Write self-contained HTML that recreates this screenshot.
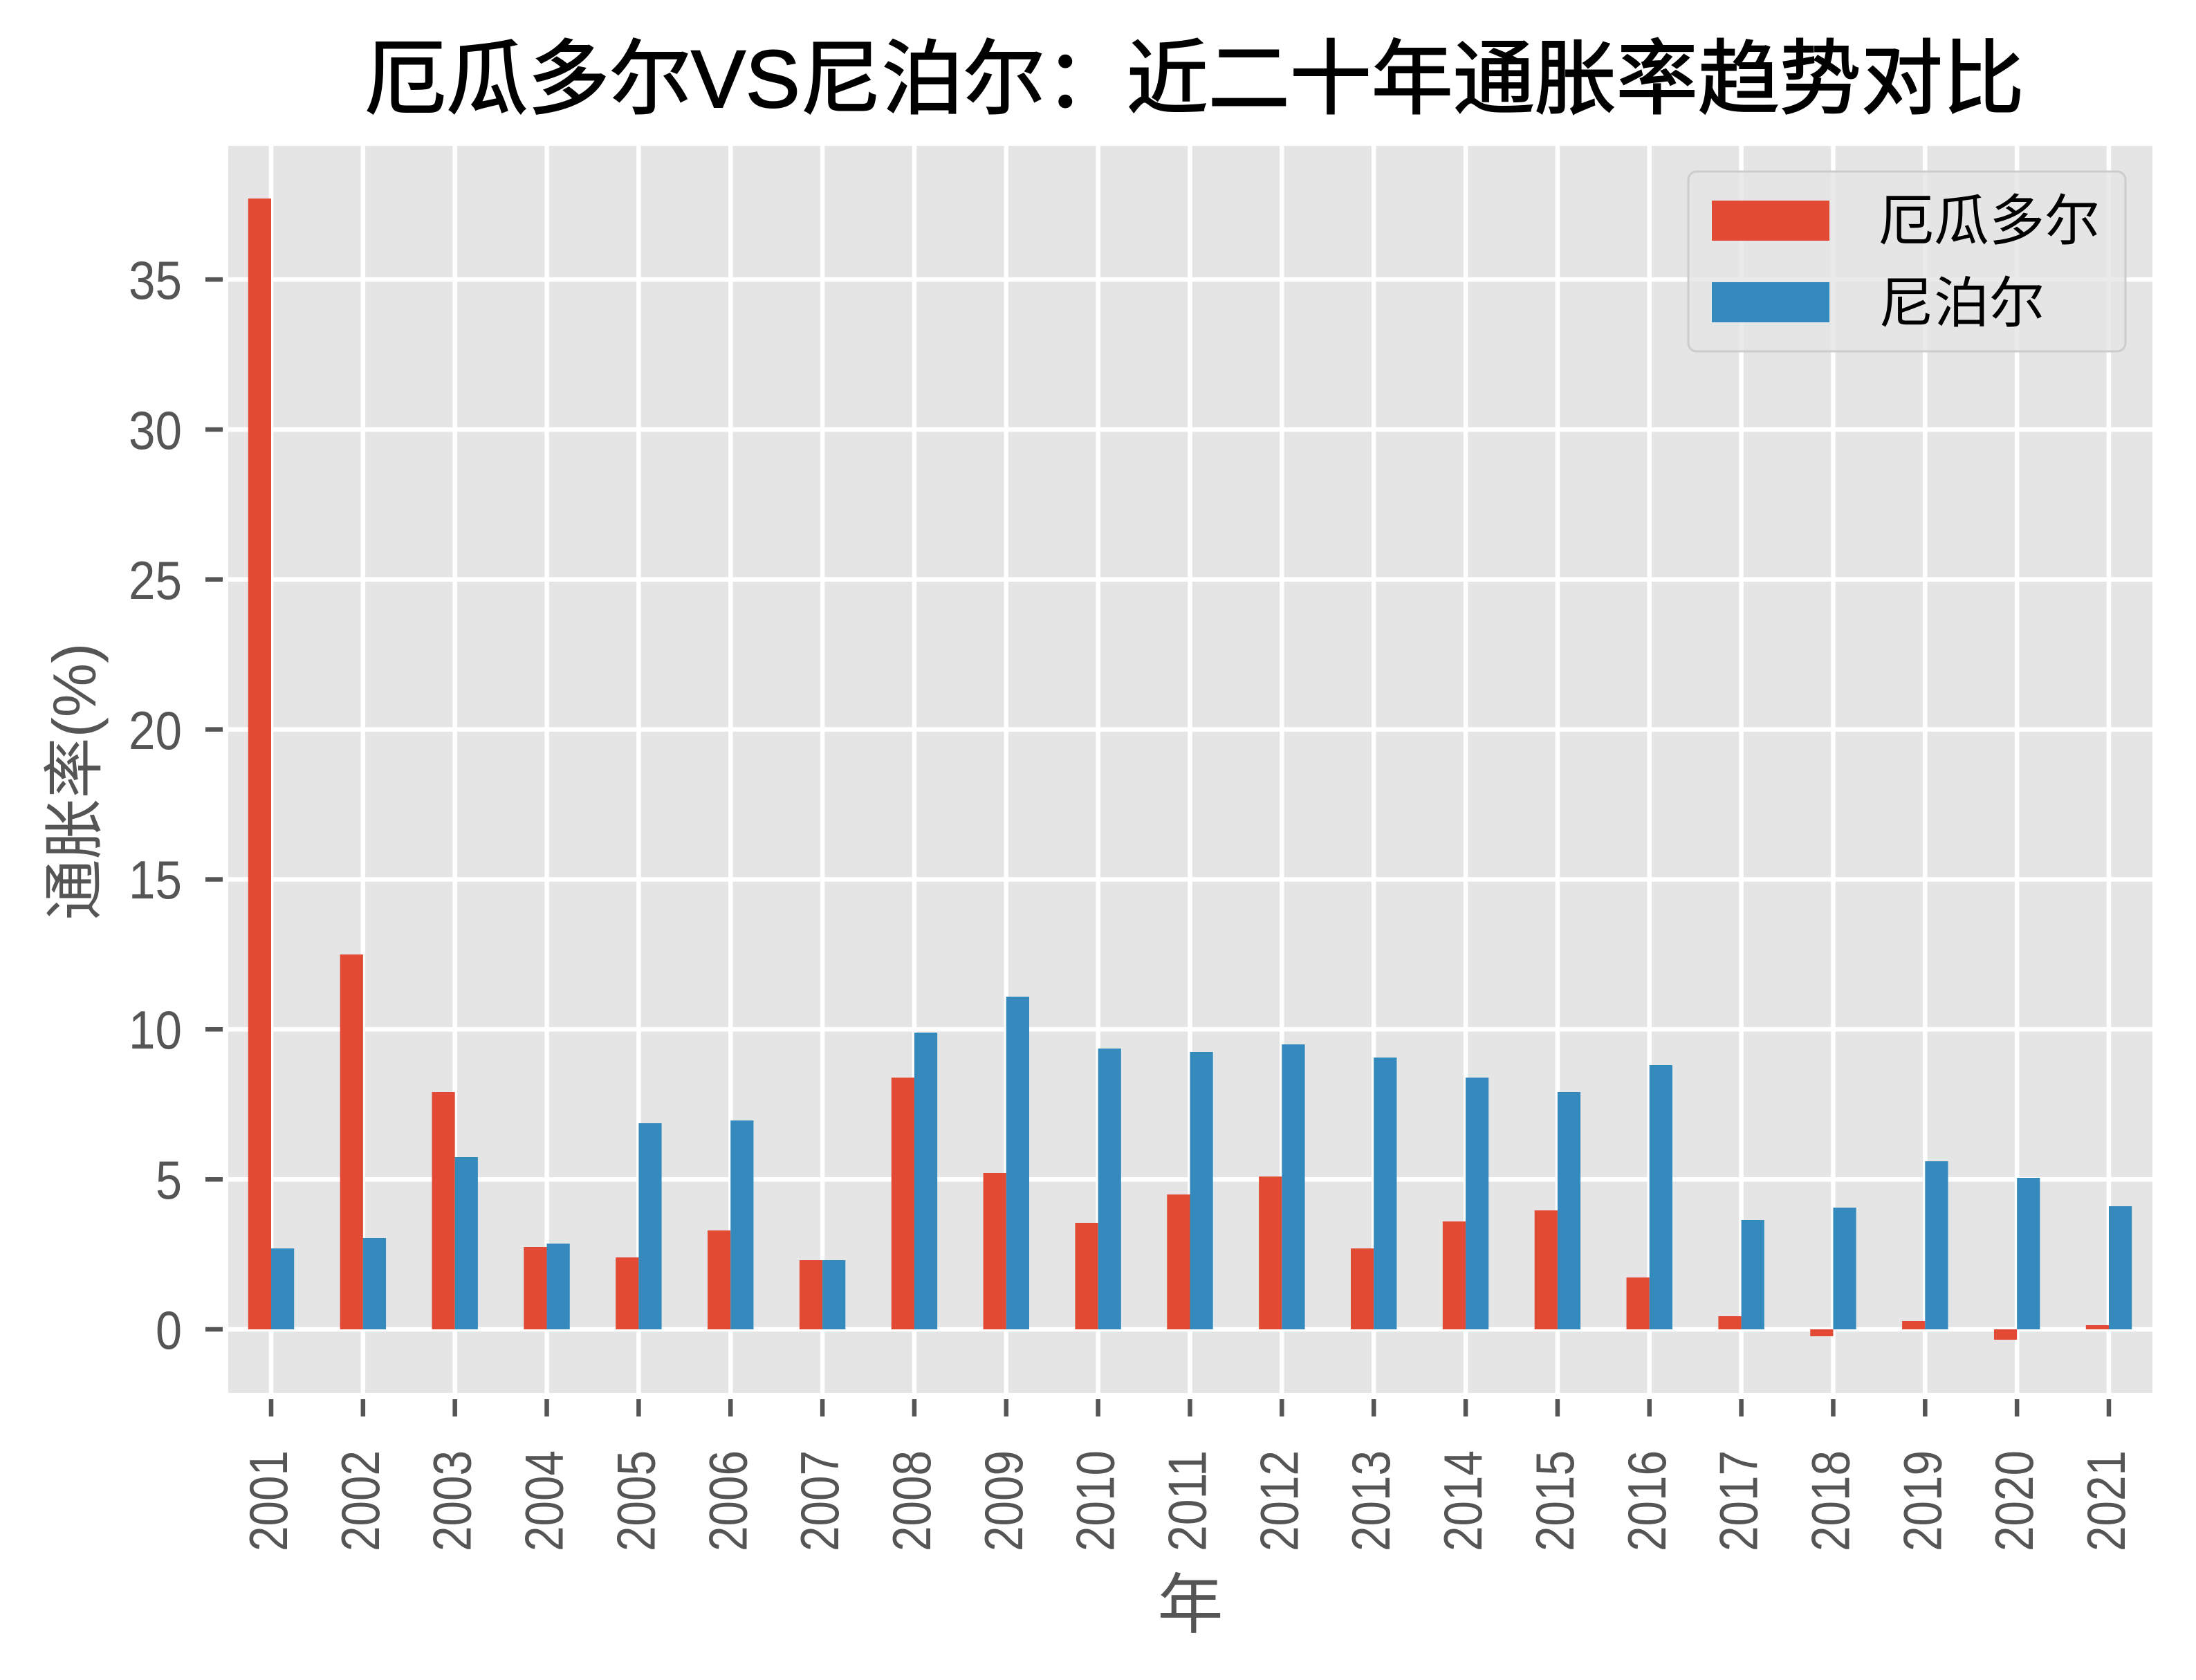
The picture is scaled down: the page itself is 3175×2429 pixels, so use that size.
<!DOCTYPE html>
<html><head><meta charset="utf-8"><style>
html,body{margin:0;padding:0;background:#fff;}
svg{display:block;}
text{font-family:"Liberation Sans","Noto Sans CJK SC",sans-serif;}
</style></head><body>
<svg width="3175" height="2429" viewBox="0 0 3175 2429" xmlns="http://www.w3.org/2000/svg">
<rect x="0" y="0" width="3175" height="2429" fill="#fff"/>
<text x="1727" y="155" font-size="118" text-anchor="middle" fill="#000" stroke="#000" stroke-width="2">厄瓜多尔VS尼泊尔：近二十年通胀率趋势对比</text>
<rect x="330" y="211" width="2782" height="1803" fill="#e5e5e5"/>
<g stroke="#fff" stroke-width="6.5">
<line x1="330" x2="3112" y1="1922" y2="1922"/>
<line x1="330" x2="3112" y1="1705.2" y2="1705.2"/>
<line x1="330" x2="3112" y1="1488.3" y2="1488.3"/>
<line x1="330" x2="3112" y1="1271.5" y2="1271.5"/>
<line x1="330" x2="3112" y1="1054.6" y2="1054.6"/>
<line x1="330" x2="3112" y1="837.8" y2="837.8"/>
<line x1="330" x2="3112" y1="621" y2="621"/>
<line x1="330" x2="3112" y1="404.1" y2="404.1"/>
<line y1="211" y2="2014" x1="392" x2="392"/>
<line y1="211" y2="2014" x1="524.85" x2="524.85"/>
<line y1="211" y2="2014" x1="657.7" x2="657.7"/>
<line y1="211" y2="2014" x1="790.55" x2="790.55"/>
<line y1="211" y2="2014" x1="923.4" x2="923.4"/>
<line y1="211" y2="2014" x1="1056.25" x2="1056.25"/>
<line y1="211" y2="2014" x1="1189.1" x2="1189.1"/>
<line y1="211" y2="2014" x1="1321.95" x2="1321.95"/>
<line y1="211" y2="2014" x1="1454.8" x2="1454.8"/>
<line y1="211" y2="2014" x1="1587.65" x2="1587.65"/>
<line y1="211" y2="2014" x1="1720.5" x2="1720.5"/>
<line y1="211" y2="2014" x1="1853.35" x2="1853.35"/>
<line y1="211" y2="2014" x1="1986.2" x2="1986.2"/>
<line y1="211" y2="2014" x1="2119.05" x2="2119.05"/>
<line y1="211" y2="2014" x1="2251.9" x2="2251.9"/>
<line y1="211" y2="2014" x1="2384.75" x2="2384.75"/>
<line y1="211" y2="2014" x1="2517.6" x2="2517.6"/>
<line y1="211" y2="2014" x1="2650.45" x2="2650.45"/>
<line y1="211" y2="2014" x1="2783.3" x2="2783.3"/>
<line y1="211" y2="2014" x1="2916.15" x2="2916.15"/>
<line y1="211" y2="2014" x1="3049" x2="3049"/>
</g>
<g fill="#e24a33">
<rect x="358.8" y="287" width="33.2" height="1635"/>
<rect x="491.65" y="1380" width="33.2" height="542"/>
<rect x="624.5" y="1579" width="33.2" height="343"/>
<rect x="757.35" y="1803" width="33.2" height="119"/>
<rect x="890.2" y="1818" width="33.2" height="104"/>
<rect x="1023.05" y="1779" width="33.2" height="143"/>
<rect x="1155.9" y="1822" width="33.2" height="100"/>
<rect x="1288.75" y="1558" width="33.2" height="364"/>
<rect x="1421.6" y="1696" width="33.2" height="226"/>
<rect x="1554.45" y="1768" width="33.2" height="154"/>
<rect x="1687.3" y="1727" width="33.2" height="195"/>
<rect x="1820.15" y="1701" width="33.2" height="221"/>
<rect x="1953" y="1805" width="33.2" height="117"/>
<rect x="2085.85" y="1766" width="33.2" height="156"/>
<rect x="2218.7" y="1750" width="33.2" height="172"/>
<rect x="2351.55" y="1847" width="33.2" height="75"/>
<rect x="2484.4" y="1903" width="33.2" height="19"/>
<rect x="2617.25" y="1922" width="33.2" height="10"/>
<rect x="2750.1" y="1910" width="33.2" height="12"/>
<rect x="2882.95" y="1922" width="33.2" height="15"/>
<rect x="3015.8" y="1916" width="33.2" height="6"/>
</g>
<g fill="#348abd">
<rect x="392" y="1805" width="33.2" height="117"/>
<rect x="524.85" y="1790" width="33.2" height="132"/>
<rect x="657.7" y="1673" width="33.2" height="249"/>
<rect x="790.55" y="1798" width="33.2" height="124"/>
<rect x="923.4" y="1624" width="33.2" height="298"/>
<rect x="1056.25" y="1620" width="33.2" height="302"/>
<rect x="1189.1" y="1822" width="33.2" height="100"/>
<rect x="1321.95" y="1493" width="33.2" height="429"/>
<rect x="1454.8" y="1441" width="33.2" height="481"/>
<rect x="1587.65" y="1516" width="33.2" height="406"/>
<rect x="1720.5" y="1521" width="33.2" height="401"/>
<rect x="1853.35" y="1510" width="33.2" height="412"/>
<rect x="1986.2" y="1529" width="33.2" height="393"/>
<rect x="2119.05" y="1558" width="33.2" height="364"/>
<rect x="2251.9" y="1579" width="33.2" height="343"/>
<rect x="2384.75" y="1540" width="33.2" height="382"/>
<rect x="2517.6" y="1764" width="33.2" height="158"/>
<rect x="2650.45" y="1746" width="33.2" height="176"/>
<rect x="2783.3" y="1679" width="33.2" height="243"/>
<rect x="2916.15" y="1703" width="33.2" height="219"/>
<rect x="3049" y="1744" width="33.2" height="178"/>
</g>
<g stroke="#555" stroke-width="6.5">
<line x1="297" x2="322" y1="1922" y2="1922"/>
<line x1="297" x2="322" y1="1705.2" y2="1705.2"/>
<line x1="297" x2="322" y1="1488.3" y2="1488.3"/>
<line x1="297" x2="322" y1="1271.5" y2="1271.5"/>
<line x1="297" x2="322" y1="1054.6" y2="1054.6"/>
<line x1="297" x2="322" y1="837.8" y2="837.8"/>
<line x1="297" x2="322" y1="621" y2="621"/>
<line x1="297" x2="322" y1="404.1" y2="404.1"/>
</g>
<g fill="#555" font-size="78" text-anchor="end">
<text x="263" y="1950" textLength="38" lengthAdjust="spacingAndGlyphs">0</text>
<text x="263" y="1733" textLength="38" lengthAdjust="spacingAndGlyphs">5</text>
<text x="263" y="1516" textLength="77" lengthAdjust="spacingAndGlyphs">10</text>
<text x="263" y="1299" textLength="77" lengthAdjust="spacingAndGlyphs">15</text>
<text x="263" y="1083" textLength="77" lengthAdjust="spacingAndGlyphs">20</text>
<text x="263" y="866" textLength="77" lengthAdjust="spacingAndGlyphs">25</text>
<text x="263" y="649" textLength="77" lengthAdjust="spacingAndGlyphs">30</text>
<text x="263" y="432" textLength="77" lengthAdjust="spacingAndGlyphs">35</text>
</g>
<g stroke="#555" stroke-width="6.5">
<line y1="2023" y2="2048" x1="392" x2="392"/>
<line y1="2023" y2="2048" x1="524.85" x2="524.85"/>
<line y1="2023" y2="2048" x1="657.7" x2="657.7"/>
<line y1="2023" y2="2048" x1="790.55" x2="790.55"/>
<line y1="2023" y2="2048" x1="923.4" x2="923.4"/>
<line y1="2023" y2="2048" x1="1056.25" x2="1056.25"/>
<line y1="2023" y2="2048" x1="1189.1" x2="1189.1"/>
<line y1="2023" y2="2048" x1="1321.95" x2="1321.95"/>
<line y1="2023" y2="2048" x1="1454.8" x2="1454.8"/>
<line y1="2023" y2="2048" x1="1587.65" x2="1587.65"/>
<line y1="2023" y2="2048" x1="1720.5" x2="1720.5"/>
<line y1="2023" y2="2048" x1="1853.35" x2="1853.35"/>
<line y1="2023" y2="2048" x1="1986.2" x2="1986.2"/>
<line y1="2023" y2="2048" x1="2119.05" x2="2119.05"/>
<line y1="2023" y2="2048" x1="2251.9" x2="2251.9"/>
<line y1="2023" y2="2048" x1="2384.75" x2="2384.75"/>
<line y1="2023" y2="2048" x1="2517.6" x2="2517.6"/>
<line y1="2023" y2="2048" x1="2650.45" x2="2650.45"/>
<line y1="2023" y2="2048" x1="2783.3" x2="2783.3"/>
<line y1="2023" y2="2048" x1="2916.15" x2="2916.15"/>
<line y1="2023" y2="2048" x1="3049" x2="3049"/>
</g>
<g fill="#555" font-size="78">
<text transform="translate(415,2243) rotate(-90)" textLength="146" lengthAdjust="spacingAndGlyphs">2001</text>
<text transform="translate(547.85,2243) rotate(-90)" textLength="146" lengthAdjust="spacingAndGlyphs">2002</text>
<text transform="translate(680.7,2243) rotate(-90)" textLength="146" lengthAdjust="spacingAndGlyphs">2003</text>
<text transform="translate(813.55,2243) rotate(-90)" textLength="146" lengthAdjust="spacingAndGlyphs">2004</text>
<text transform="translate(946.4,2243) rotate(-90)" textLength="146" lengthAdjust="spacingAndGlyphs">2005</text>
<text transform="translate(1079.25,2243) rotate(-90)" textLength="146" lengthAdjust="spacingAndGlyphs">2006</text>
<text transform="translate(1212.1,2243) rotate(-90)" textLength="146" lengthAdjust="spacingAndGlyphs">2007</text>
<text transform="translate(1344.95,2243) rotate(-90)" textLength="146" lengthAdjust="spacingAndGlyphs">2008</text>
<text transform="translate(1477.8,2243) rotate(-90)" textLength="146" lengthAdjust="spacingAndGlyphs">2009</text>
<text transform="translate(1610.65,2243) rotate(-90)" textLength="146" lengthAdjust="spacingAndGlyphs">2010</text>
<text transform="translate(1743.5,2243) rotate(-90)" textLength="146" lengthAdjust="spacingAndGlyphs">2011</text>
<text transform="translate(1876.35,2243) rotate(-90)" textLength="146" lengthAdjust="spacingAndGlyphs">2012</text>
<text transform="translate(2009.2,2243) rotate(-90)" textLength="146" lengthAdjust="spacingAndGlyphs">2013</text>
<text transform="translate(2142.05,2243) rotate(-90)" textLength="146" lengthAdjust="spacingAndGlyphs">2014</text>
<text transform="translate(2274.9,2243) rotate(-90)" textLength="146" lengthAdjust="spacingAndGlyphs">2015</text>
<text transform="translate(2407.75,2243) rotate(-90)" textLength="146" lengthAdjust="spacingAndGlyphs">2016</text>
<text transform="translate(2540.6,2243) rotate(-90)" textLength="146" lengthAdjust="spacingAndGlyphs">2017</text>
<text transform="translate(2673.45,2243) rotate(-90)" textLength="146" lengthAdjust="spacingAndGlyphs">2018</text>
<text transform="translate(2806.3,2243) rotate(-90)" textLength="146" lengthAdjust="spacingAndGlyphs">2019</text>
<text transform="translate(2939.15,2243) rotate(-90)" textLength="146" lengthAdjust="spacingAndGlyphs">2020</text>
<text transform="translate(3072,2243) rotate(-90)" textLength="146" lengthAdjust="spacingAndGlyphs">2021</text>
</g>
<text x="1721" y="2353" font-size="95" fill="#555" text-anchor="middle">年</text>
<text transform="translate(138,1130) rotate(-90)" font-size="88" fill="#555" text-anchor="middle">通胀率(%)</text>
<rect x="2441" y="248" width="632" height="260" rx="12" ry="12" fill="#e5e5e5" fill-opacity="0.8" stroke="#ccc" stroke-width="3"/>
<rect x="2475" y="290" width="170" height="58" fill="#e24a33"/>
<rect x="2475" y="408" width="170" height="58" fill="#348abd"/>
<text x="2716" y="347" font-size="80" fill="#000">厄瓜多尔</text>
<text x="2716" y="466" font-size="80" fill="#000">尼泊尔</text>
</svg>
</body></html>
